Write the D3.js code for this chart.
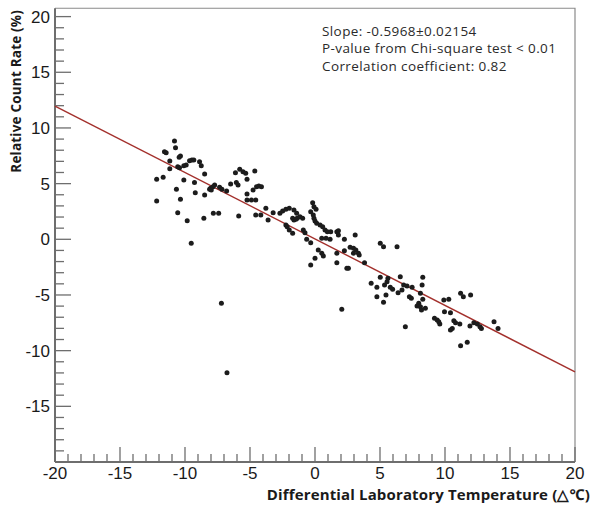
<!DOCTYPE html>
<html>
<head>
<meta charset="utf-8">
<script src="https://cdn.jsdelivr.net/npm/d3@7"></script>
<style>
  body { margin: 0; background: #fff; }
  text { font-family: "Liberation Sans", Arial, sans-serif; }
  .title, .stat { font-family: "Open Sans", "Noto Sans", sans-serif; }
</style>
</head>
<body>
<div id="viz"></div>
<script>
"use strict";

var w = 593;
var h = 505;

// temperature difference (deg C) and relative count rate (%)
var tempDiff = [
  -10.81, -10.73, -11.58, -11.45, -10.35, -10.45, -11.17, -9.65, -9.47, -9.32,
  -8.88, -8.75, -10.09, -9.91, -10.56, -10.42, -11.17, -8.49, -11.68, -12.18,
  -10.09, -9.27, -10.66, -9.21, -8.49, -7.72, -7.85, -8.03, -8.11, -7.98,
  -7.34, -7.16, -6.80, -6.49, -6.12, -5.79, -5.54, -6.05, -5.92, -12.18,
  -10.35, -10.56, -9.83, -8.55, -7.82, -7.41, -5.87, -9.52, -7.20, -6.77,
  -5.33, -4.63, -5.23, -4.50, -4.32, -4.12, -4.76, -5.23, -5.23, -4.89,
  -4.56, -4.56, -4.17, -3.61, -3.78, -3.22, -2.70, -2.49, -2.24, -1.98,
  -1.62, -1.41, -1.72, -1.62, -1.47, -1.37, -1.16, -0.95, -0.18, -0.08,
  0.08, -0.33, -0.13, -0.08, 0.00, 0.13, 0.39, 0.59, 0.77, 0.95,
  1.21, -2.24, -2.14, -1.98, -1.72, -0.90, -0.77, -0.64, -0.33, 0.52,
  0.85, 1.16, 1.68, 0.25, 0.52, 0.64, 0.00, -0.33, 1.68, 1.80,
  1.80, 2.26, 3.09, 2.70, 2.96, 3.14, 3.34, 3.40, 2.26, 2.96,
  1.68, 3.81, 2.45, 2.57, 5.02, 5.27, 6.31, 5.02, 5.61, 5.54,
  4.32, 4.76, 5.35, 5.79, 5.97, 6.56, 6.82, 7.08, 7.47, 8.29,
  8.24, 6.69, 6.39, 5.46, 4.76, 7.26, 7.41, 5.27, 7.98, 7.85,
  8.11, 8.29, 8.19, 2.06, 6.95, 8.11, 8.49, 9.91, 10.29, 11.20,
  11.41, 11.97, 9.96, 10.42, 9.19, 9.40, 9.52, 9.60, 10.68, 10.81,
  11.14, 10.56, 10.42, 11.92, 12.22, 12.49, 12.69, 12.80, 13.77, 14.08,
  11.20, 11.71
];
var countRate = [
  8.83, 8.23, 7.87, 7.78, 7.48, 7.37, 7.03, 7.06, 7.12, 7.12,
  6.97, 6.61, 6.61, 6.68, 6.52, 6.43, 6.34, 5.87, 5.57, 5.39,
  5.33, 5.09, 4.49, 4.19, 3.98, 4.88, 4.73, 4.58, 4.49, 4.43,
  4.67, 4.49, 4.34, 4.97, 5.98, 6.29, 6.07, 5.09, 4.88, 3.44,
  3.59, 2.39, 1.67, 1.89, 2.34, 2.34, 2.09, -0.36, -5.75, -11.99,
  5.93, 6.14, 5.39, 4.73, 4.79, 4.73, 4.43, 4.07, 3.53, 3.53,
  3.53, 2.18, 2.18, 1.73, 2.79, 2.39, 2.34, 2.54, 2.70, 2.79,
  2.63, 2.34, 1.89, 1.73, 1.80, 1.89, 2.03, 1.89, 3.29, 2.93,
  2.70, 2.48, 2.18, 1.89, 1.64, 1.44, 1.28, 1.13, 0.84, 0.68,
  0.68, 1.28, 1.13, 0.84, 0.54, 0.84, 0.59, 0.00, -0.31, 0.09,
  0.09, 0.00, 0.68, -0.96, -1.26, -1.50, -1.71, -2.31, -1.26, 0.77,
  0.39, 0.00, 0.39, -0.72, -0.81, -0.96, -1.26, -1.41, -1.02, -1.26,
  -2.10, -2.10, -2.61, -2.61, -0.36, -0.66, -0.66, -3.41, -3.50, -3.81,
  -3.95, -4.31, -4.11, -4.31, -4.49, -3.36, -4.11, -4.20, -4.31, -3.41,
  -4.11, -4.56, -4.80, -5.00, -5.16, -5.16, -5.30, -5.66, -5.75, -5.99,
  -6.06, -5.39, -6.35, -6.29, -7.85, -4.85, -6.20, -5.45, -5.39, -4.85,
  -5.16, -5.00, -6.50, -6.59, -7.10, -7.25, -7.40, -7.61, -7.31, -7.49,
  -7.61, -8.00, -8.15, -7.79, -7.49, -7.61, -7.85, -8.00, -7.40, -8.00,
  -9.56, -9.25
];

// linear fit
var fitSlope = -0.5968;
var fitIntercept = 0.03;

var xTicks = [-20, -15, -10, -5, 0, 5, 10, 15, 20];
var yTicks = [-15, -10, -5, 0, 5, 10, 15, 20];
var statLines = [
  "Slope: -0.5968\u00b10.02154",
  "P-value from Chi-square test < 0.01",
  "Correlation coefficient: 0.82"
];

var svg = d3.select("#viz")
  .append("svg")
  .attr("width", w)
  .attr("height", h);

var x = d3.scaleLinear().domain([-20, 20]).range([55, 575]);
var y = d3.scaleLinear().domain([-20, 20]).range([462, 16.6]);
var yTop = 20.75;

// frame (top and right)
svg.append("path")
  .attr("d", "M" + x(-20) + "," + y(yTop) + "H" + x(20) + "V" + y(-20))
  .attr("fill", "none")
  .attr("stroke", "#8a8a8a")
  .attr("stroke-width", 1.2);

// axes with ROOT style inward ticks
var axisColor = "#6e6e6e";
var minorX = d3.range(-20, 21, 1);
var minorY = d3.range(-20, 21, 1);

var gx = svg.append("g");
gx.append("line")
  .attr("x1", x(-20)).attr("x2", x(20))
  .attr("y1", y(-20)).attr("y2", y(-20))
  .attr("stroke", axisColor).attr("stroke-width", 2);
gx.selectAll("line.minor")
  .data(minorX).enter()
  .append("line")
  .classed("minor", true)
  .attr("x1", function(d) { return x(d); })
  .attr("x2", function(d) { return x(d); })
  .attr("y1", y(-20))
  .attr("y2", function(d) { return y(-20) - (d % 5 === 0 ? 15 : 8); })
  .attr("stroke", axisColor).attr("stroke-width", 1.3);
gx.selectAll("text")
  .data(xTicks).enter()
  .append("text")
  .attr("x", function(d) { return x(d); })
  .attr("y", 479)
  .attr("text-anchor", "middle")
  .attr("font-size", 17)
  .attr("fill", "#1a1a1a")
  .text(function(d) { return d; });

var gy = svg.append("g");
gy.append("line")
  .attr("x1", x(-20)).attr("x2", x(-20))
  .attr("y1", y(-20)).attr("y2", y(yTop))
  .attr("stroke", axisColor).attr("stroke-width", 2);
gy.selectAll("line.minor")
  .data(minorY).enter()
  .append("line")
  .classed("minor", true)
  .attr("y1", function(d) { return y(d); })
  .attr("y2", function(d) { return y(d); })
  .attr("x1", x(-20))
  .attr("x2", function(d) { return x(-20) + (d % 5 === 0 ? 16 : 9); })
  .attr("stroke", axisColor).attr("stroke-width", 1.3);
gy.selectAll("text")
  .data(yTicks).enter()
  .append("text")
  .attr("x", 50)
  .attr("y", function(d) { return y(d) + 6; })
  .attr("text-anchor", "end")
  .attr("font-size", 17)
  .attr("fill", "#1a1a1a")
  .text(function(d) { return d; });

// axis titles
svg.append("text")
  .attr("class", "title")
  .attr("x", 590)
  .attr("y", 500)
  .attr("text-anchor", "end")
  .attr("font-size", 15)
  .attr("letter-spacing", 0.15)
  .attr("font-weight", "bold")
  .attr("fill", "#1a1a1a")
  .text("Differential Laboratory Temperature (\u25b3\u2103)");

svg.append("text")
  .attr("class", "title")
  .attr("transform", "translate(21,10) rotate(-90)")
  .attr("text-anchor", "end")
  .attr("font-size", 13.5)
  .attr("letter-spacing", 0.2)
  .attr("font-weight", "bold")
  .attr("fill", "#1a1a1a")
  .text("Relative Count Rate (%)");

// fit line
svg.append("line")
  .attr("x1", x(-20)).attr("y1", y(fitSlope * -20 + fitIntercept))
  .attr("x2", x(20)).attr("y2", y(fitSlope * 20 + fitIntercept))
  .attr("stroke", "#a3302c")
  .attr("stroke-width", 1.4);

// data points
svg.append("g")
  .selectAll("circle")
  .data(d3.zip(tempDiff, countRate)).enter()
  .append("circle")
  .attr("cx", function(d) { return x(d[0]); })
  .attr("cy", function(d) { return y(d[1]); })
  .attr("r", 2.5)
  .attr("fill", "#1c1c1c");

// stats box text
svg.append("g")
  .selectAll("text")
  .data(statLines).enter()
  .append("text")
  .attr("class", "stat")
  .attr("x", 322)
  .attr("y", function(d, i) { return 36 + i * 17.3; })
  .attr("font-size", 13.5)
  .attr("letter-spacing", 0.4)
  .attr("fill", "#2a2a2a")
  .text(function(d) { return d; });
</script>
</body>
</html>
